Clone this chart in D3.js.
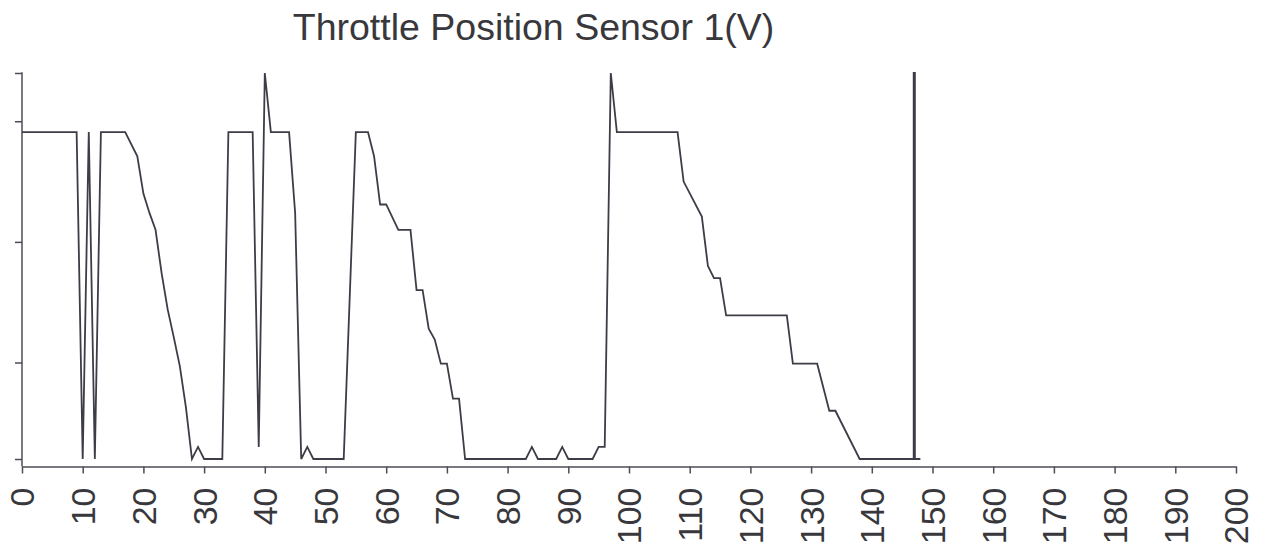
<!DOCTYPE html>
<html>
<head>
<meta charset="utf-8">
<script src="https://cdn.jsdelivr.net/npm/d3@7"></script>
<style>
  html, body { margin: 0; padding: 0; background: #ffffff; }
  svg { display: block; }
</style>
</head>
<body>
<svg id="chart" width="1269" height="553"></svg>
<script>
// ---- data ----
const chartTitle = "Throttle Position Sensor 1(V)";
const timeSec = [0, 9, 10, 11, 12, 13, 17, 19, 20, 21, 22, 23, 24, 25, 26, 27, 28, 29, 30, 33, 34, 38, 39, 40, 41, 44, 45, 46, 47, 48, 53, 55, 57, 58, 59, 60, 62, 64, 65, 66, 67, 68, 69, 70, 71, 72, 73, 83, 84, 85, 88, 89, 90, 94, 95, 96, 97, 98, 108, 109, 112, 113, 114, 115, 116, 126, 127, 131, 133, 134, 138, 148];
const tpsVolts = [2.91, 2.91, 0.2, 2.91, 0.2, 2.91, 2.91, 2.71, 2.40, 2.24, 2.10, 1.74, 1.44, 1.21, 0.97, 0.63, 0.2, 0.3, 0.2, 0.2, 2.91, 2.91, 0.3, 3.4, 2.91, 2.91, 2.24, 0.2, 0.3, 0.2, 0.2, 2.91, 2.91, 2.71, 2.31, 2.31, 2.10, 2.10, 1.60, 1.60, 1.28, 1.19, 0.99, 0.99, 0.70, 0.70, 0.2, 0.2, 0.3, 0.2, 0.2, 0.3, 0.2, 0.2, 0.3, 0.3, 3.4, 2.91, 2.91, 2.50, 2.21, 1.80, 1.70, 1.70, 1.39, 1.39, 0.99, 0.99, 0.60, 0.60, 0.2, 0.2];
const cursorTime = [147];
const xTickValues = [0, 10, 20, 30, 40, 50, 60, 70, 80, 90, 100, 110, 120, 130, 140, 150, 160, 170, 180, 190, 200];
const yTickValues = [0.2, 1, 2, 3, 3.4];
const xDomain = [0, 200];
const yDomain = [0.2, 3.4];

// ---- layout ----
const svg = d3.select("#chart");
const plotLeft = 22, plotRight = 1236, plotTop = 73, plotBottom = 459, axisY = 466.5;
const x = d3.scaleLinear().domain(xDomain).range([plotLeft, plotRight]);
const y = d3.scaleLinear().domain(yDomain).range([plotBottom, plotTop]);

const axisColor = "#4d4d57";
const lineColor = "#3d3d47";
const textColor = "#38383c";
const font = "'Liberation Sans', Arial, Helvetica, sans-serif";

// title
svg.append("text")
  .attr("x", 533.5).attr("y", 40)
  .attr("text-anchor", "middle")
  .attr("font-family", font)
  .attr("font-size", 37.5)
  .attr("fill", textColor)
  .text(chartTitle);

// y axis
const yAxisG = svg.append("g")
  .attr("transform", `translate(${plotLeft},0)`)
  .call(d3.axisLeft(y).tickValues(yTickValues).tickFormat("").tickSize(7).tickSizeOuter(0));
yAxisG.select(".domain").remove();
yAxisG.selectAll(".tick line").attr("stroke", axisColor).attr("stroke-width", 1.5);
svg.append("line")
  .attr("x1", plotLeft).attr("x2", plotLeft)
  .attr("y1", y(yDomain[1]) - 0.75).attr("y2", axisY)
  .attr("stroke", axisColor).attr("stroke-width", 1.5);

// x axis
const xAxisG = svg.append("g")
  .attr("transform", `translate(0,${axisY})`)
  .call(d3.axisBottom(x).tickValues(xTickValues).tickFormat(d3.format("d")).tickSize(7).tickSizeOuter(0));
xAxisG.select(".domain").attr("stroke", axisColor).attr("stroke-width", 1.5);
xAxisG.selectAll(".tick line").attr("stroke", axisColor).attr("stroke-width", 1.5);
xAxisG.selectAll(".tick text")
  .attr("transform", "rotate(-90)")
  .attr("x", -21)
  .attr("y", 0)
  .attr("dy", "0.35em")
  .attr("text-anchor", "end")
  .attr("font-family", font)
  .attr("font-size", 34)
  .attr("fill", textColor);

// data line
const pts = timeSec.map((t, i) => [t, tpsVolts[i]]);
svg.append("path")
  .datum(pts)
  .attr("fill", "none")
  .attr("stroke", lineColor)
  .attr("stroke-width", 1.8)
  .attr("stroke-linejoin", "miter")
  .attr("d", d3.line().x(d => x(d[0])).y(d => y(d[1])));

// cursor line
svg.selectAll(".cursor")
  .data(cursorTime)
  .enter().append("line")
  .attr("class", "cursor")
  .attr("x1", d => x(d)).attr("x2", d => x(d))
  .attr("y1", y(yDomain[1]) - 1).attr("y2", y(yDomain[0]))
  .attr("stroke", lineColor)
  .attr("stroke-width", 3);
</script>
</body>
</html>
